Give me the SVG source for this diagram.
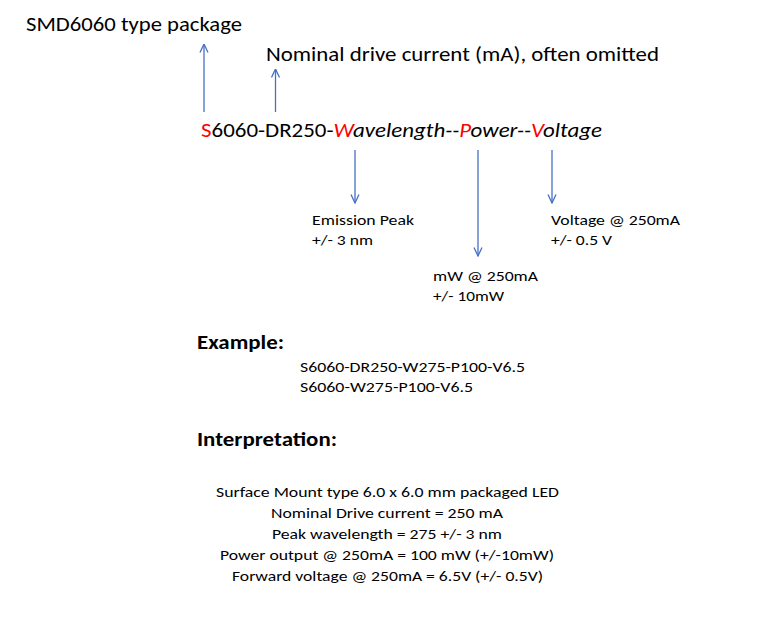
<svg xmlns="http://www.w3.org/2000/svg" width="762" height="624" viewBox="0 0 762 624">
<style>
text{font-family:Carlito,Calibri,Lato,"Open Sans",sans-serif;fill:#000}
.big{font-size:20px}
.sm{font-size:15px}
.b{font-weight:bold}
.r{fill:#FF0000}
.i{font-style:italic}
.ctr{text-anchor:middle}
.conn line{stroke:#4472C4;stroke-width:1.3;fill:none}
</style>
<defs>
<marker id="ah" viewBox="0 0 10 10" refX="9.5" refY="5" markerWidth="10" markerHeight="10" markerUnits="userSpaceOnUse" orient="auto">
<polyline points="1,1 9.5,5 1,9" fill="none" stroke="#4472C4" stroke-width="1.3"/>
</marker>
</defs>
<rect width="762" height="624" fill="#fff"/>
<g id="connectors" class="conn">
<line x1="204" y1="112" x2="204" y2="44" marker-end="url(#ah)"/>
<line x1="275.5" y1="112" x2="275.5" y2="69" marker-end="url(#ah)"/>
<line x1="355" y1="150" x2="355" y2="203" marker-end="url(#ah)"/>
<line x1="478" y1="150" x2="478" y2="256" marker-end="url(#ah)"/>
<line x1="552" y1="150" x2="552" y2="203" marker-end="url(#ah)"/>
</g>
<g id="pkg"><text class="big" x="26" y="31" textLength="216" lengthAdjust="spacingAndGlyphs">SMD6060 type package</text></g>
<g id="drive"><text class="big" x="266" y="61" textLength="393" lengthAdjust="spacingAndGlyphs">Nominal drive current (mA), often omitted</text></g>
<g id="code"><text class="big" x="201" y="137" textLength="401" lengthAdjust="spacingAndGlyphs"><tspan class="r">S</tspan>6060-DR250-<tspan class="r i">W</tspan><tspan class="i">avelength--</tspan><tspan class="r i">P</tspan><tspan class="i">ower--</tspan><tspan class="r i">V</tspan><tspan class="i">oltage</tspan></text></g>
<g id="emission">
<text class="sm" x="312" y="225" textLength="102" lengthAdjust="spacingAndGlyphs">Emission Peak</text>
<text class="sm" x="312" y="245" textLength="61" lengthAdjust="spacingAndGlyphs">+/- 3 nm</text>
</g>
<g id="power">
<text class="sm" x="433" y="281" textLength="105" lengthAdjust="spacingAndGlyphs">mW @ 250mA</text>
<text class="sm" x="433" y="301" textLength="71" lengthAdjust="spacingAndGlyphs">+/- 10mW</text>
</g>
<g id="voltage">
<text class="sm" x="551" y="225" textLength="129" lengthAdjust="spacingAndGlyphs">Voltage @ 250mA</text>
<text class="sm" x="551" y="245" textLength="61" lengthAdjust="spacingAndGlyphs">+/- 0.5 V</text>
</g>
<g id="example">
<text class="big b" x="197" y="349" textLength="87" lengthAdjust="spacingAndGlyphs">Example:</text>
<text class="sm" x="300" y="372" textLength="225" lengthAdjust="spacingAndGlyphs">S6060-DR250-W275-P100-V6.5</text>
<text class="sm" x="300" y="392" textLength="173" lengthAdjust="spacingAndGlyphs">S6060-W275-P100-V6.5</text>
</g>
<g id="interpretation">
<text class="big b" x="197" y="446" textLength="140" lengthAdjust="spacingAndGlyphs">Interpretation:</text>
<text class="sm" x="216" y="497" textLength="343" lengthAdjust="spacingAndGlyphs">Surface Mount type 6.0 x 6.0 mm packaged LED</text>
<text class="sm" x="271" y="518" textLength="232" lengthAdjust="spacingAndGlyphs">Nominal Drive current = 250 mA</text>
<text class="sm" x="272" y="539" textLength="230" lengthAdjust="spacingAndGlyphs">Peak wavelength = 275 +/- 3 nm</text>
<text class="sm" x="220" y="560" textLength="334" lengthAdjust="spacingAndGlyphs">Power output @ 250mA = 100 mW (+/-10mW)</text>
<text class="sm" x="232" y="581" textLength="311" lengthAdjust="spacingAndGlyphs">Forward voltage @ 250mA = 6.5V (+/- 0.5V)</text>
</g>
</svg>
